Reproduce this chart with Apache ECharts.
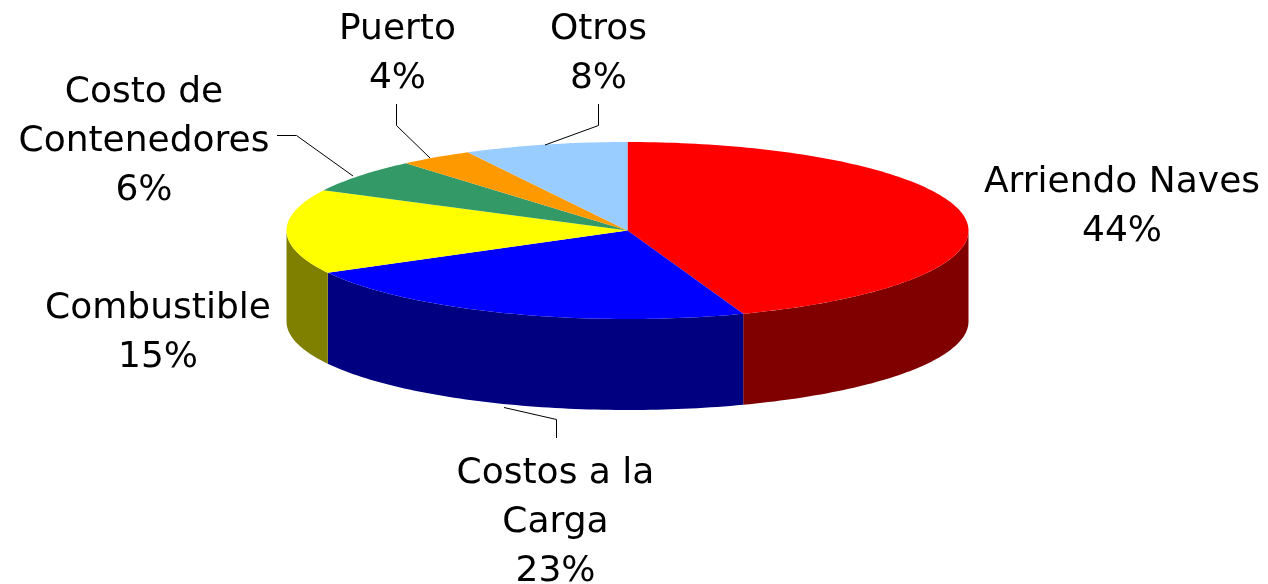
<!DOCTYPE html>
<html>
<head>
<meta charset="utf-8">
<style>html,body{margin:0;padding:0;background:#fff}#c{width:1268px;height:584px}</style>
<script src="https://cdn.jsdelivr.net/npm/echarts@6/dist/echarts.min.js"></script>
</head>
<body>
<div id="c"></div>
<script>
const categories = ['Arriendo Naves', 'Costos a la\nCarga', 'Combustible', 'Costo de\nContenedores', 'Puerto', 'Otros'];
const values = [44.49, 22.6, 15.4, 6.25, 3.5, 7.76];
const topColors = ['#ff0000', '#0000ff', '#ffff00', '#339966', '#ff9900', '#99ccff'];
const sideColors = ['#800000', '#000080', '#808000', '#1a4d33', '#804d00', '#4d6680'];
const labelCenters = [[1122, 207.5], [555.5, 522.5], [158, 333.5], [144, 141.5], [397.5, 54], [598.5, 54]];
const leaderLines = [
  [[504, 407.5], [556.5, 419.5], [556.5, 438]],
  [[277, 135.5], [296.5, 135.5], [353, 176]],
  [[396.5, 104], [396.5, 125.5], [430, 158]],
  [[598.5, 104], [598.5, 125.5], [545, 145]]
];
const cx = 627.5, cy = 230.5, rx = 341, ry = 88.5, depth = 91;
const FONT = '36px "DejaVu Sans", Verdana, sans-serif';
const total = values.reduce((a, b) => a + b, 0);
let run = 0;
const sliceData = values.map(v => { const s = run; run += v; return [s, run]; });
const toAngle = v => v / total * 2 * Math.PI;
const ptAt = (t, dy) => [cx + rx * Math.sin(t), cy - ry * Math.cos(t) + (dy || 0)];
function arc(a, b, dy) {
  const n = Math.max(2, Math.ceil((b - a) / 0.02));
  const out = [];
  for (let i = 0; i <= n; i++) out.push(ptAt(a + (b - a) * i / n, dy));
  return out;
}
function renderSide(params, api) {
  const a = Math.max(toAngle(api.value(0)), Math.PI / 2);
  const b = Math.min(toAngle(api.value(1)), 3 * Math.PI / 2);
  if (b <= a) return { type: 'group', children: [] };
  const pts = arc(a, b, 0).concat(arc(a, b, depth).reverse());
  return { type: 'polygon', shape: { points: pts }, style: { fill: sideColors[params.dataIndex] } };
}
function renderTop(params, api) {
  const a = toAngle(api.value(0)), b = toAngle(api.value(1));
  const pts = [[cx, cy]].concat(arc(a, b, 0));
  return { type: 'polygon', shape: { points: pts }, style: { fill: topColors[params.dataIndex] } };
}
const graphics = [];
categories.forEach((c, i) => {
  graphics.push({
    type: 'text', z: 10,
    style: {
      text: c + '\n' + Math.round(values[i]) + '%',
      x: labelCenters[i][0], y: labelCenters[i][1],
      align: 'center', verticalAlign: 'middle',
      font: FONT, lineHeight: 49, fill: '#000'
    }
  });
});
leaderLines.forEach(l => graphics.push({
  type: 'polyline', z: 9, shape: { points: l }, style: { stroke: '#000', lineWidth: 1, fill: null }
}));
const chart = echarts.init(document.getElementById('c'), null, { renderer: 'canvas' });
chart.setOption({
  animation: false,
  backgroundColor: '#fff',
  graphic: graphics,
  series: [
    { type: 'custom', coordinateSystem: 'none', renderItem: renderSide, data: sliceData, z: 1, silent: true },
    { type: 'custom', coordinateSystem: 'none', renderItem: renderTop, data: sliceData, z: 2, silent: true }
  ]
});
</script>
</body>
</html>
